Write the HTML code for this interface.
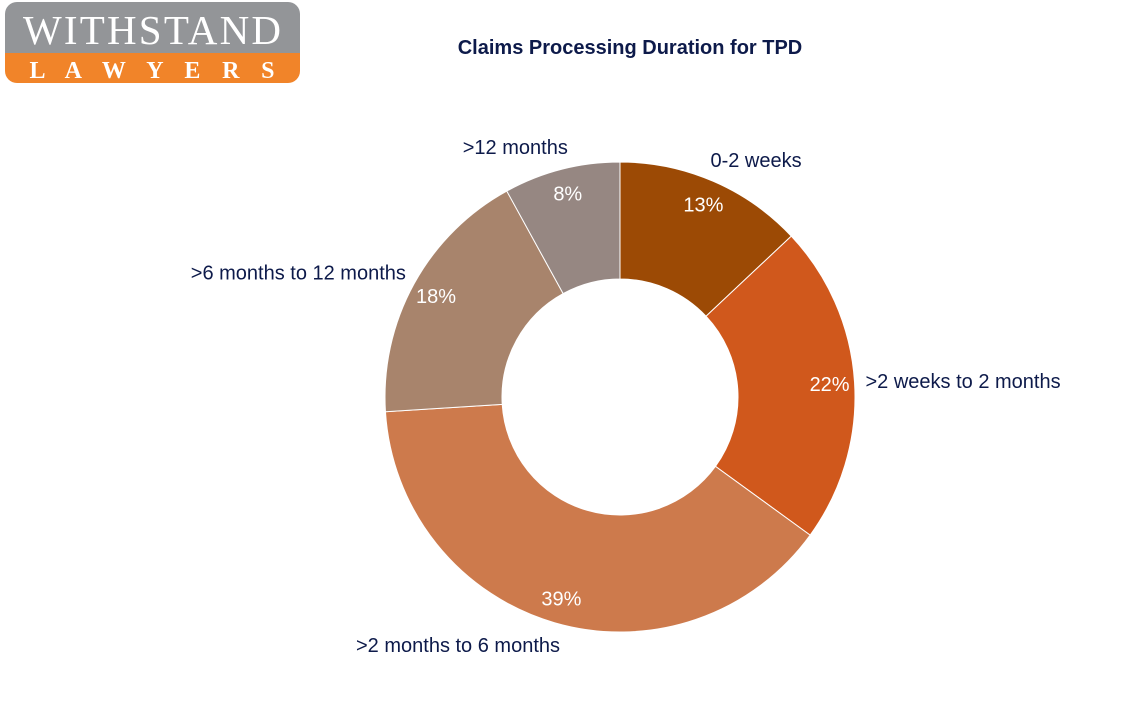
<!DOCTYPE html>
<html><head><meta charset="utf-8"><style>
body{margin:0;background:#fff;width:1133px;height:701px;overflow:hidden;font-family:"Liberation Sans",Arial,sans-serif}
</style></head><body>
<svg width="1133" height="701" viewBox="0 0 1133 701">
<g>
<clipPath id="lc"><rect x="5" y="2" width="295" height="81" rx="12"/></clipPath>
<g clip-path="url(#lc)"><rect x="5" y="2" width="295" height="51" fill="#939598"/><rect x="5" y="53" width="295" height="30" fill="#f18429"/></g>
<text x="152" y="44" text-anchor="middle" font-family="Liberation Serif,serif" font-size="41" fill="#fff" textLength="258">WITHSTAND</text>
<text x="152" y="78" text-anchor="middle" font-family="Liberation Serif,serif" font-size="24" font-weight="bold" fill="#fff" textLength="245">L A W Y E R S</text>
</g>
<text x="630" y="54" text-anchor="middle" font-size="20" font-weight="bold" fill="#0d1a4a">Claims Processing Duration for TPD</text>
<g id="pie"></g>
</svg>
<script>
const categories=["0-2 weeks",">2 weeks to 2 months",">2 months to 6 months",">6 months to 12 months",">12 months"];
const values=[13,22,39,18,8];
const colors=["#9c4a05","#d0581c","#cd7a4c","#a8846c","#968782"];
const cx=620,cy=397,R=235,r=118;
const g=document.getElementById('pie');
const NS="http://www.w3.org/2000/svg";
const total=values.reduce((a,b)=>a+b,0);
function pt(a,rad){return [cx+rad*Math.sin(a),cy-rad*Math.cos(a)];}
let acc=0;
values.forEach((v,i)=>{
  const a0=acc/total*2*Math.PI;acc+=v;const a1=acc/total*2*Math.PI;
  const large=(a1-a0)>Math.PI?1:0;
  const p1=pt(a0,R),p2=pt(a1,R),p3=pt(a1,r),p4=pt(a0,r);
  const p=document.createElementNS(NS,'path');
  p.setAttribute('d',`M${p1[0]},${p1[1]}A${R},${R} 0 ${large} 1 ${p2[0]},${p2[1]}L${p3[0]},${p3[1]}A${r},${r} 0 ${large} 0 ${p4[0]},${p4[1]}Z`);
  p.setAttribute('fill',colors[i]);p.setAttribute('stroke','#fff');p.setAttribute('stroke-width','1');
  
  
  g.appendChild(p);
  const am=(a0+a1)/2;
  const lp=pt(am,210);
  const t=document.createElementNS(NS,'text');
  t.setAttribute('x',lp[0]);t.setAttribute('y',lp[1]+7);t.setAttribute('text-anchor','middle');
  t.setAttribute('font-size','20');t.setAttribute('fill','#fff');
  t.textContent=v+'%';
  
  
  g.appendChild(t);
  const op=pt(am,258);
  const c=document.createElementNS(NS,'text');
  c.setAttribute('x',op[0]+(Math.sin(am)>0?-12:12));c.setAttribute('y',op[1]+7);
  c.setAttribute('text-anchor',Math.sin(am)>0?'start':'end');
  c.setAttribute('font-size','20');c.setAttribute('fill','#0d1a4a');
  c.textContent=categories[i];
  
  
  g.appendChild(c);
});
</script>
</body></html>
